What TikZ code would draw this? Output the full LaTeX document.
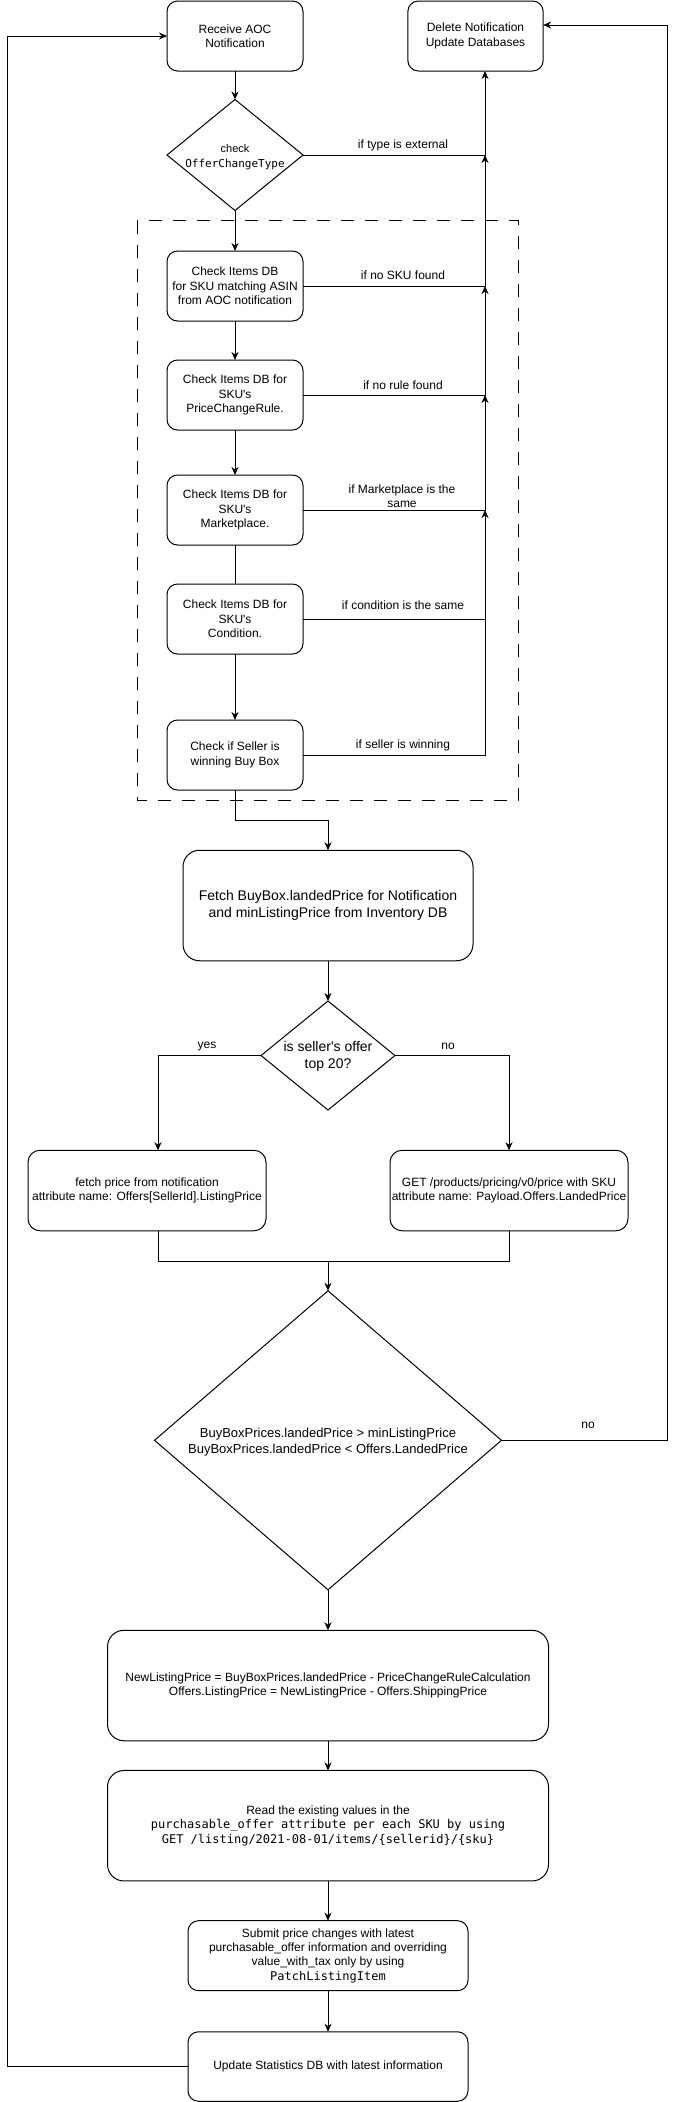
\documentclass[tikz,border=0pt]{standalone}
\usepackage{fontspec}
\setmainfont{Liberation Sans}
\newfontfamily\monof{DejaVu Sans Mono}
\usetikzlibrary{arrows.meta,shapes.geometric}
\newcommand\ftxi{\fontsize{11}{15}\selectfont}
\newcommand\ftxii{\fontsize{12}{14.3}\selectfont}
\newcommand\ftxiii{\fontsize{13}{15.8}\selectfont}
\newcommand\ftxiv{\fontsize{14}{17.3}\selectfont}
\begin{document}
\begin{tikzpicture}[x=1pt,y=-1pt,
  every node/.style={inner sep=0pt,outer sep=0pt},
  line/.style={line width=1pt,draw=black},
  arr/.style={line,-{Stealth[length=8pt,width=7pt,inset=2.5pt]}},
  rbox/.style={draw,line width=1pt,align=center,font=\ftxii},
  smallbox/.style={rbox,rounded corners=10.5pt,minimum width=136pt,minimum height=70pt},
  bigbox/.style={rbox,rounded corners=16.5pt,minimum height=110.5pt},
  midbox/.style={rbox,rounded corners=12pt,minimum width=238pt,minimum height=80.5pt},
  dia/.style={draw,line width=1pt,diamond,inner sep=0pt},
  lbl/.style={align=center,font=\ftxii},
  dashbox/.style={line width=1pt,dash pattern=on 13pt off 11pt}
]
\useasboundingbox (0,0) rectangle (675,2102);

% dashed group
\draw[dashbox] (137,220.5) rectangle (518,800);

% nodes
\node[smallbox] (recv) at (235,36) {Receive AOC\\Notification};
\node[smallbox,minimum width=135.3pt] (del) at (475.5,36) {Delete Notification\\Update Databases};
\node[dia,minimum width=136pt,minimum height=111pt] (d1) at (235,155) {};
\node[align=center,font=\ftxi] (d1t) at (235,157) {check\\{\monof OfferChangeType}};
\node[smallbox] (b1) at (235,286) {Check Items DB\\for SKU matching ASIN\\from AOC notification};
\node[smallbox] (b2) at (235,395) {Check Items DB for\\SKU\textquotesingle s\\PriceChangeRule.};
\node[smallbox] (b3) at (235,510) {Check Items DB for\\SKU\textquotesingle s\\Marketplace.};
\node[smallbox] (b4) at (235,619) {Check Items DB for\\SKU\textquotesingle s\\Condition.};
\node[smallbox] (b5) at (235,755) {Check if Seller is\\winning Buy Box};
\node[bigbox,minimum width=290pt,font=\ftxiv] (fetch) at (328,905.5) {Fetch BuyBox.landedPrice for Notification\\and minListingPrice from Inventory DB};
\node[dia,minimum width=134pt,minimum height=109pt] (d2) at (328,1055.5) {};
\node[align=center,font=\ftxiv] (d2t) at (328,1056.5) {is seller\textquotesingle s offer\\top 20?};
\node[midbox] (lb) at (147,1190.5) {fetch price from notification\\attribute name: Offers[SellerId].ListingPrice};
\node[midbox] (rb) at (509,1190.5) {GET /products/pricing/v0/price with SKU\\attribute name: Payload.Offers.LandedPrice};
\node[dia,minimum width=347pt,minimum height=299pt] (d3) at (328,1440.3) {};
\node[align=center,font=\ftxiii] (d3t) at (328,1442) {BuyBoxPrices.landedPrice > minListingPrice\\BuyBoxPrices.landedPrice < Offers.LandedPrice};
\node[bigbox,minimum width=441pt] (newp) at (328,1685.5) {NewListingPrice = BuyBoxPrices.landedPrice - PriceChangeRuleCalculation\\Offers.ListingPrice = NewListingPrice - Offers.ShippingPrice};
\node[bigbox,minimum width=441pt] (read) at (328,1825.7) {Read the existing values in the\\{\monof purchasable\_offer attribute per each SKU by using}\\{\monof GET /listing/2021-08-01/items/\{sellerid\}/\{sku\}}};
\node[smallbox,minimum width=280pt] (sub) at (328,1955.7) {Submit price changes with latest\\purchasable\_offer information and overriding\\value\_with\_tax only by using\\{\monof PatchListingItem}};
\node[smallbox,minimum width=280pt,minimum height=69.5pt] (upd) at (328,2066.5) {Update Statistics DB with latest information};

% junction coordinates on the right collector line
\coordinate (j0) at (485,155);
\coordinate (j1) at (485,286);
\coordinate (j2) at (485,395);
\coordinate (j3) at (485,510);
\coordinate (j4) at (485,619);
\coordinate (j5) at (485,755);
\coordinate (lc) at (7.5,36);
\coordinate (rc) at (667,25);
\coordinate (mg) at (328,1261);

% main flow
\draw[arr] (recv) -- (d1);
\draw[arr] (d1) -- (b1);
\draw[arr] (b1) -- (b2);
\draw[arr] (b2) -- (b3);
\draw[line] (b3) -- (b4);
\draw[arr] (b4) -- (b5);
\draw[arr] (b5.south) -- ++(0,30) -| (fetch.north);
\draw[arr] (fetch) -- (d2);
\draw[arr] (d2.west) -| ([xshift=11pt]lb.north);
\draw[arr] (d2.east) -| (rb.north);
\draw[line] ([xshift=11pt]lb.south) |- (mg);
\draw[line] (rb.south) |- (mg);
\draw[arr] (mg) -- (d3.north);
\draw[arr] (d3) -- (newp);
\draw[arr] (newp) -- (read);
\draw[arr] (read) -- (sub);
\draw[arr] (sub) -- (upd);

% exits to Delete Notification
\draw[arr] (d1.east) -- (j0) -- (j0 |- del.south);
\draw[arr] (b1.east) -- (j1) -- (j0);
\draw[arr] (b2.east) -- (j2) -- (j1);
\draw[arr] (b3.east) -- (j3) -- (j2);
\draw[arr] (b4.east) -- (j4) -- (j3);
\draw[line] (b5.east) -- (j5) -- (j4);

% loops
\draw[arr] (upd.west) -| (lc) -- (recv.west);
\draw[arr] (d3.east) -| (rc) -- (rc -| del.east);

% labels
\node[lbl] (l0) at (403,145.7) {if type is external};
\node[lbl] (l1) at (403,275.7) {if no SKU found};
\node[lbl] (l2) at (403,385.7) {if no rule found};
\node[lbl] (l3) at (402,496) {if Marketplace is the\\same};
\node[lbl] (l4) at (403,605) {if condition is the same};
\node[lbl] (l5) at (403,745.5) {if seller is winning};
\node[lbl] (ly) at (207,1046.7) {yes};
\node[lbl] (ln) at (448,1046.7) {no};
\node[lbl] (ln2) at (588,1425.7) {no};
\end{tikzpicture}
\end{document}
